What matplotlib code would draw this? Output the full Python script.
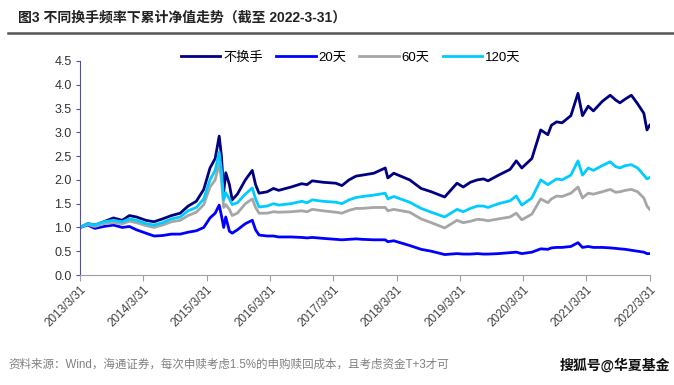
import matplotlib
matplotlib.use("Agg")
import matplotlib.pyplot as plt
import pandas as pd

plt.rcParams['font.family'] = ['Liberation Sans', 'Noto Sans CJK SC']

# values (one line per year)
dates = ["2013-03-31", "2013-05-15", "2013-06-25", "2013-08-15", "2013-10-10", "2013-11-30",
         "2014-01-10", "2014-02-20", "2014-04-15", "2014-06-01", "2014-07-20", "2014-09-10", "2014-10-30", "2014-12-15",
         "2015-01-31", "2015-03-15", "2015-04-20", "2015-05-20", "2015-06-12", "2015-06-25", "2015-07-08",
         "2015-07-20", "2015-08-10", "2015-08-26", "2015-09-25", "2015-11-10", "2015-12-20",
         "2016-01-08", "2016-01-28", "2016-03-15", "2016-04-20", "2016-05-20", "2016-07-31", "2016-09-30", "2016-10-31", "2016-11-30",
         "2017-01-31", "2017-04-15", "2017-05-20", "2017-06-30", "2017-08-10", "2017-09-15", "2017-11-20",
         "2018-01-25", "2018-02-09", "2018-03-15", "2018-06-15", "2018-08-20", "2018-10-18",
         "2019-01-03", "2019-03-15", "2019-04-20", "2019-05-31", "2019-07-10", "2019-08-15", "2019-09-10", "2019-11-10",
         "2020-01-15", "2020-02-20", "2020-03-23", "2020-05-20", "2020-07-10", "2020-08-20", "2020-09-10", "2020-10-10", "2020-11-10", "2020-12-31",
         "2021-02-10", "2021-03-08", "2021-04-10", "2021-05-10", "2021-06-30", "2021-08-15", "2021-09-15", "2021-10-10", "2021-11-10", "2021-12-15",
         "2022-01-20", "2022-02-25", "2022-03-15", "2022-03-31"]

no_turnover = [1.00, 1.08, 1.05, 1.12, 1.20, 1.15,
               1.25, 1.22, 1.15, 1.12, 1.18, 1.25, 1.30, 1.45,
               1.55, 1.80, 2.25, 2.45, 2.92, 2.50, 1.75,
               2.15, 1.90, 1.58, 1.70, 2.00, 2.20,
               1.90, 1.72, 1.75, 1.82, 1.78, 1.85, 1.92, 1.90, 1.98,
               1.95, 1.93, 1.88, 2.00, 2.08, 2.10, 2.14,
               2.25, 2.04, 2.14, 2.00, 1.82, 1.75,
               1.64, 1.93, 1.85, 1.95, 2.00, 2.02, 1.98, 2.10,
               2.22, 2.40, 2.25, 2.45, 3.05, 2.95, 3.15, 3.22, 3.20, 3.35,
               3.82, 3.35, 3.55, 3.45, 3.65, 3.78, 3.68, 3.62, 3.70, 3.78,
               3.60, 3.40, 3.05, 3.15]

d20 = [1.00, 1.05, 0.98, 1.02, 1.05, 1.00,
       1.02, 0.95, 0.88, 0.82, 0.83, 0.86, 0.86, 0.90,
       0.93, 1.00, 1.20, 1.30, 1.47, 1.25, 1.00,
       1.22, 0.92, 0.88, 0.95, 1.08, 1.15,
       0.95, 0.84, 0.82, 0.82, 0.80, 0.80, 0.79, 0.78, 0.79,
       0.77, 0.75, 0.74, 0.75, 0.76, 0.75, 0.74,
       0.74, 0.70, 0.72, 0.62, 0.54, 0.50,
       0.43, 0.45, 0.44, 0.44, 0.45, 0.44, 0.44, 0.45,
       0.47, 0.48, 0.45, 0.48, 0.55, 0.54, 0.57, 0.58, 0.58, 0.60,
       0.68, 0.58, 0.60, 0.58, 0.58, 0.57, 0.56, 0.55, 0.54, 0.52,
       0.50, 0.48, 0.45, 0.45]

d60 = [1.00, 1.06, 1.02, 1.08, 1.10, 1.08,
       1.13, 1.10, 1.04, 1.00, 1.05, 1.12, 1.15, 1.25,
       1.32, 1.48, 1.85, 2.00, 2.35, 2.00, 1.42,
       1.48, 1.38, 1.25, 1.30, 1.50, 1.60,
       1.42, 1.30, 1.30, 1.33, 1.32, 1.33, 1.35, 1.33, 1.38,
       1.35, 1.32, 1.30, 1.36, 1.40, 1.40, 1.42,
       1.42, 1.35, 1.38, 1.32, 1.18, 1.10,
       0.99, 1.15, 1.10, 1.13, 1.17, 1.16, 1.14, 1.18,
       1.22, 1.30, 1.16, 1.28, 1.60, 1.52, 1.60, 1.66, 1.65, 1.72,
       1.85, 1.62, 1.72, 1.70, 1.75, 1.80, 1.74, 1.75, 1.78, 1.80,
       1.75, 1.62, 1.45, 1.38]

d120 = [1.00, 1.08, 1.05, 1.12, 1.15, 1.12,
        1.18, 1.15, 1.08, 1.05, 1.10, 1.18, 1.22, 1.35,
        1.42, 1.60, 2.00, 2.20, 2.58, 2.20, 1.58,
        1.73, 1.60, 1.48, 1.52, 1.70, 1.83,
        1.60, 1.43, 1.45, 1.50, 1.47, 1.50, 1.55, 1.52, 1.58,
        1.55, 1.53, 1.50, 1.58, 1.63, 1.65, 1.68,
        1.72, 1.60, 1.65, 1.53, 1.40, 1.32,
        1.22, 1.38, 1.33, 1.40, 1.45, 1.45, 1.42, 1.50,
        1.56, 1.66, 1.47, 1.62, 2.00, 1.90, 1.95, 2.02, 2.00, 2.10,
        2.40, 2.10, 2.25, 2.20, 2.30, 2.38, 2.28, 2.25, 2.30, 2.32,
        2.25, 2.10, 2.02, 2.05]

series_names = ["不换手", "20天", "60天", "120天"]
series_colors = ["#000080", "#0000FF", "#A6A6A6", "#00CCFF"]

tick_years = list(range(2013, 2023))

x = pd.to_datetime(dates)

fig = plt.figure(figsize=(6.74, 3.85), dpi=100)
ax = fig.add_axes([0.1187, 0.2857, 0.8453, 0.5559])

for vals, name, col in zip([no_turnover, d20, d60, d120], series_names, series_colors):
    ax.plot(x, vals, color=col, lw=2.0, label=name, solid_joinstyle='round')

ax.set_ylim(0, 4.5)
ax.set_yticks([i * 0.5 for i in range(10)])
ax.yaxis.set_major_formatter(matplotlib.ticker.FormatStrFormatter('%.1f'))

ticks = pd.to_datetime([f"{y}-03-31" for y in tick_years])
ax.set_xlim(ticks[0], ticks[-1])
ax.set_xticks(ticks)
ax.set_xticklabels([f"{y}/3/31" for y in tick_years], rotation=45, ha='right',
                   rotation_mode='anchor', fontsize=8.5, color='#404040')
for lab in ax.get_yticklabels():
    lab.set_fontsize(9)
    lab.set_color('#333333')

for s in ['top', 'right']:
    ax.spines[s].set_visible(False)
ax.spines['left'].set_color('#4F4FA8')
ax.spines['bottom'].set_color('#A0A0A0')
ax.tick_params(axis='y', length=3, color='#4F4FA8', pad=3)
ax.tick_params(axis='x', length=4, color='#A0A0A0', pad=2)

ax.legend(loc='center', bbox_to_anchor=(0.475, 1.015), ncol=4, frameon=False,
          fontsize=9.5, handlelength=3.0, handletextpad=0.2, columnspacing=1.0)

fig.text(0.027, 0.955, "图3 不同换手频率下累计净值走势（截至 2022-3-31）", fontsize=10,
         fontweight='bold', va='center', ha='left', color='#222222')
fig.add_artist(plt.Line2D([0.012, 1.0], [0.914, 0.914], color='#555555', lw=1.8))

fig.text(0.012, 0.052, "资料来源：Wind，海通证券，每次申赎考虑1.5%的申购赎回成本，且考虑资金T+3才可",
         fontsize=8.3, color='#808080', va='center', ha='left')
fig.text(0.995, 0.052, "搜狐号@华夏基金", fontsize=10, fontweight='bold', color='#111111',
         va='center', ha='right',
         bbox=dict(facecolor='white', edgecolor='none', pad=1))

fig.savefig("out.png", dpi=100)
